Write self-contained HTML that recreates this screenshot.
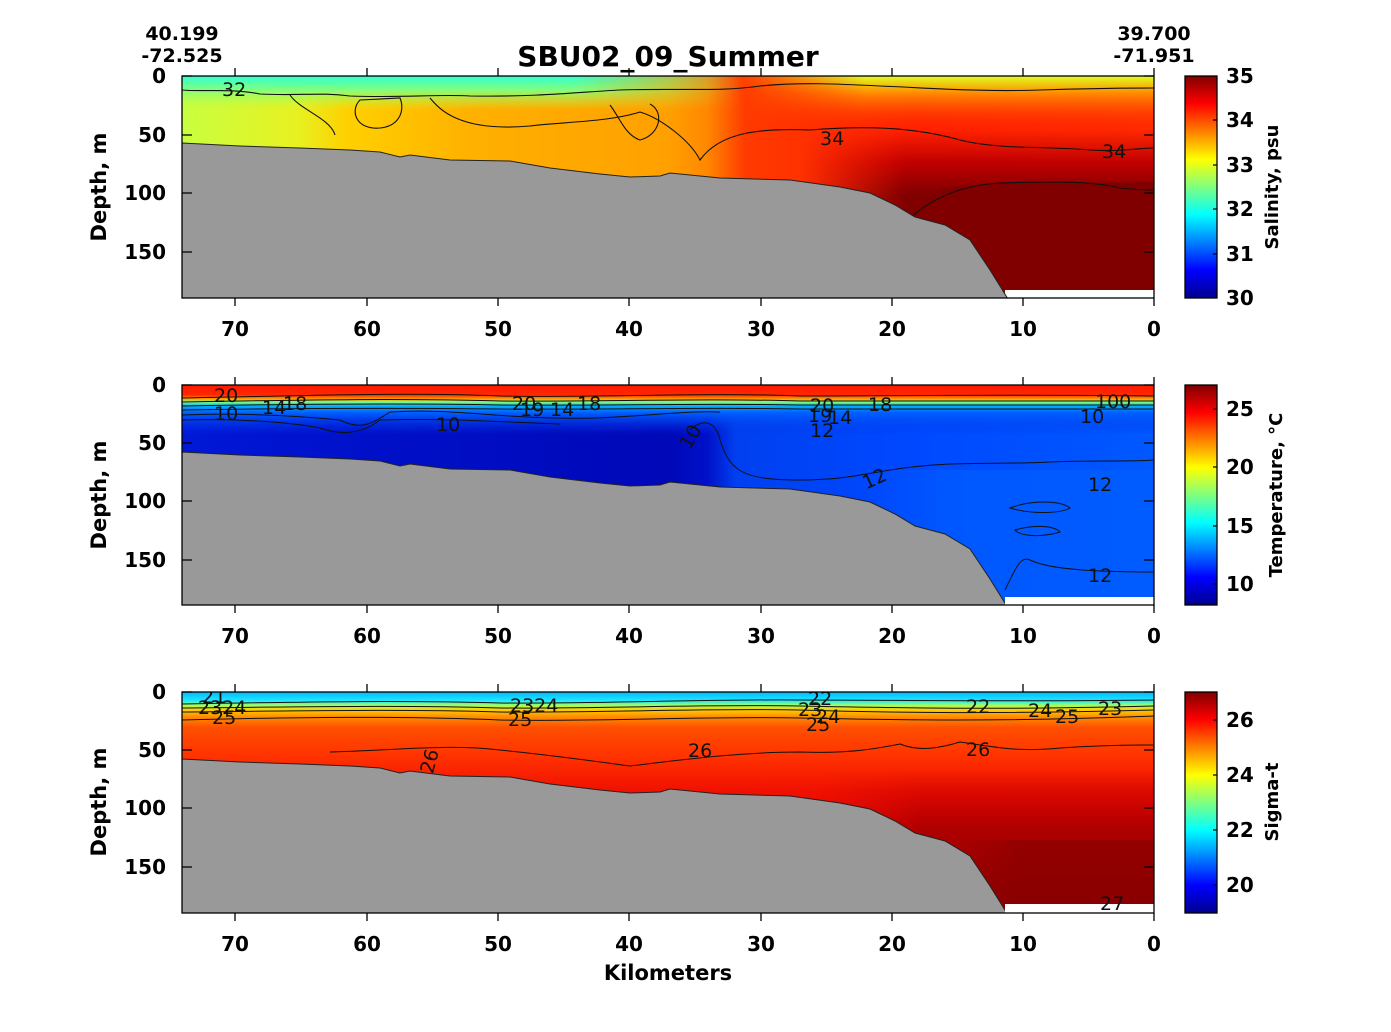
<!DOCTYPE html>
<html><head><meta charset="utf-8"><style>
html,body{margin:0;padding:0;background:#fff}
svg text{font-family:"DejaVu Sans","Liberation Sans",sans-serif}
.c{font-size:19px;fill:#111;font-family:"DejaVu Sans",sans-serif}
</style></head><body>
<svg width="1391" height="1027" viewBox="0 0 1391 1027" xmlns="http://www.w3.org/2000/svg">
<defs>
<linearGradient id="jet" x1="0" y1="1" x2="0" y2="0">
<stop offset="0" stop-color="#00008f"/><stop offset="0.125" stop-color="#0000ff"/>
<stop offset="0.375" stop-color="#00ffff"/><stop offset="0.625" stop-color="#ffff00"/>
<stop offset="0.875" stop-color="#ff0000"/><stop offset="1" stop-color="#800000"/>
</linearGradient>
<linearGradient id="fL" x1="0" y1="0" x2="1" y2="0">
<stop offset="0" stop-color="#fff"/><stop offset="0.7" stop-color="#fff"/><stop offset="1" stop-color="#000"/>
</linearGradient>
<linearGradient id="fR" x1="0" y1="0" x2="1" y2="0">
<stop offset="0" stop-color="#000"/><stop offset="0.3" stop-color="#fff"/><stop offset="1" stop-color="#fff"/>
</linearGradient>
<mask id="mL" maskContentUnits="objectBoundingBox"><rect x="0" y="0" width="1" height="1" fill="url(#fL)"/></mask>
<mask id="mR" maskContentUnits="objectBoundingBox"><rect x="0" y="0" width="1" height="1" fill="url(#fR)"/></mask>
<linearGradient id="s1h" gradientUnits="userSpaceOnUse" x1="182" y1="0" x2="1154" y2="0">
<stop offset="0" stop-color="#c8ff40"/><stop offset="0.12" stop-color="#e8f020"/>
<stop offset="0.17" stop-color="#ffd000"/><stop offset="0.3" stop-color="#ffb000"/>
<stop offset="0.5" stop-color="#ffa000"/><stop offset="0.54" stop-color="#ff8800"/>
<stop offset="0.58" stop-color="#ff3a00"/><stop offset="0.75" stop-color="#ff2000"/>
<stop offset="1" stop-color="#ff2a00"/>
</linearGradient>
<linearGradient id="s1top" gradientUnits="userSpaceOnUse" x1="0" y1="76" x2="0" y2="110">
<stop offset="0" stop-color="#30ffd0"/><stop offset="0.4" stop-color="#80ff80"/>
<stop offset="1" stop-color="#c0ff40" stop-opacity="0"/>
</linearGradient>
<linearGradient id="s1tr" gradientUnits="userSpaceOnUse" x1="0" y1="76" x2="0" y2="130">
<stop offset="0" stop-color="#e0ff20"/><stop offset="0.3" stop-color="#ff9000"/>
<stop offset="1" stop-color="#ff3000" stop-opacity="0"/>
</linearGradient>
<linearGradient id="s1deep" gradientUnits="userSpaceOnUse" x1="0" y1="130" x2="0" y2="195">
<stop offset="0" stop-color="#c00000" stop-opacity="0"/><stop offset="0.5" stop-color="#c00000"/>
<stop offset="1" stop-color="#800000"/>
</linearGradient>
<linearGradient id="t2h" gradientUnits="userSpaceOnUse" x1="182" y1="0" x2="1154" y2="0">
<stop offset="0" stop-color="#0018d8"/><stop offset="0.2" stop-color="#0010c8"/>
<stop offset="0.5" stop-color="#0008b8"/><stop offset="0.54" stop-color="#0010c8"/>
<stop offset="0.57" stop-color="#0040f0"/><stop offset="0.75" stop-color="#0048ff"/>
<stop offset="1" stop-color="#0058ff"/>
</linearGradient>
<linearGradient id="t2v" gradientUnits="userSpaceOnUse" x1="0" y1="385" x2="0" y2="435">
<stop offset="0" stop-color="#ff1800"/><stop offset="0.2" stop-color="#ff2800"/>
<stop offset="0.28" stop-color="#ffa000"/><stop offset="0.34" stop-color="#80ff80"/>
<stop offset="0.42" stop-color="#00b0ff"/><stop offset="0.55" stop-color="#0060ff"/>
<stop offset="1" stop-color="#0030e8" stop-opacity="0"/>
</linearGradient>
<linearGradient id="g3v" gradientUnits="userSpaceOnUse" x1="0" y1="692" x2="0" y2="913">
<stop offset="0" stop-color="#00b8ff"/><stop offset="0.04" stop-color="#20e8ff"/>
<stop offset="0.06" stop-color="#a0ff60"/><stop offset="0.08" stop-color="#ffd000"/>
<stop offset="0.11" stop-color="#ff9000"/><stop offset="0.16" stop-color="#ff5000"/>
<stop offset="0.3" stop-color="#ff3000"/><stop offset="0.45" stop-color="#f01000"/>
<stop offset="0.75" stop-color="#e00000"/><stop offset="1" stop-color="#d00000"/>
</linearGradient>
<linearGradient id="g3deep" gradientUnits="userSpaceOnUse" x1="0" y1="770" x2="0" y2="913">
<stop offset="0" stop-color="#c00000" stop-opacity="0"/><stop offset="0.4" stop-color="#b00000"/>
<stop offset="1" stop-color="#880000"/>
</linearGradient>
<clipPath id="c1"><rect x="182" y="76" width="972" height="222"/></clipPath>
<clipPath id="c2"><rect x="182" y="385" width="972" height="220"/></clipPath>
<clipPath id="c3"><rect x="182" y="692" width="972" height="221"/></clipPath>
<polygon id="bath" points="182,143 240,146 300,148 350,150 380,152 400,157 410,155 450,160 510,161 550,168 600,174 630,177 660,176 670,173 720,178 790,180 840,187 870,193 895,205 915,217 945,225 970,240 990,270 1008,299 182,299"/>
</defs>

<text x="668" y="66" text-anchor="middle" style="font-size:28px;font-weight:bold">SBU02_09_Summer</text>
<g style="font-size:19px;font-weight:bold" text-anchor="middle">
<text x="182" y="40">40.199</text><text x="182" y="62">-72.525</text>
<text x="1154" y="40">39.700</text><text x="1154" y="62">-71.951</text>
</g>

<!-- Panel 1 -->
<g clip-path="url(#c1)">
<rect x="182" y="76" width="972" height="222" fill="url(#s1h)"/>
<rect x="182" y="76" width="560" height="40" fill="url(#s1top)" mask="url(#mL)"/>
<rect x="740" y="76" width="414" height="60" fill="url(#s1tr)" mask="url(#mR)"/>
<rect x="800" y="130" width="354" height="168" fill="url(#s1deep)" mask="url(#mR)"/>
<polygon points="910,215 940,188 1000,183 1154,182 1154,298 910,298" fill="#800000"/>
<rect x="1005" y="290" width="149" height="10" fill="#fff"/>
<g fill="none" stroke="#111" stroke-width="1.1">
<path d="M182,90 C200,92 230,88 260,94 C300,96 320,92 350,96 C400,98 440,94 470,96 C540,97 580,92 620,90 C680,88 720,92 760,86 C800,82 840,84 880,86 C930,88 980,92 1040,90 C1100,88 1130,88 1154,88"/>
<path d="M290,95 C300,110 330,118 335,135 M360,100 C350,110 355,130 380,128 C400,126 405,110 400,98 Z"/>
<path d="M430,98 C440,110 460,132 530,126 C560,122 610,122 640,112 M610,105 C620,118 625,135 640,140 C660,135 665,112 650,104"/>
<path d="M640,112 C660,118 690,140 700,160 C720,132 760,128 810,130 C860,126 910,126 960,140 C1000,150 1050,146 1090,150 C1120,152 1140,148 1154,148"/>
<path d="M910,218 C930,200 960,185 1000,183 C1040,182 1090,180 1120,188 C1140,190 1150,190 1154,190"/>
</g>
<text x="222" y="96" class="c">32</text>
<text x="820" y="145" class="c">34</text>
<text x="1102" y="158" class="c">34</text>
<use href="#bath" fill="#999" stroke="#222" stroke-width="1"/>
</g>

<!-- Panel 2 -->
<g clip-path="url(#c2)">
<rect x="182" y="385" width="972" height="220" fill="url(#t2h)"/>
<rect x="860" y="470" width="294" height="135" fill="#0060ff" opacity="0.6" mask="url(#mR)"/>
<rect x="182" y="385" width="972" height="50" fill="url(#t2v)"/>
<g fill="none" stroke="#111" stroke-width="1">
<path d="M182,398 C300,396 400,392 500,396 C600,398 700,392 800,396 C900,396 1000,394 1154,396"/>
<path d="M182,402 C300,400 400,398 500,401 C600,402 700,398 800,401 C900,402 1000,400 1154,401"/>
<path d="M182,406 C300,404 400,403 500,405 C600,406 700,403 800,405 C900,406 1000,404 1154,405"/>
<path d="M182,410 C300,408 400,408 500,409 C600,410 700,407 800,409 C900,410 1000,408 1154,409"/>
<path d="M182,415 C260,412 320,418 340,420 C360,430 370,425 390,412 C450,408 500,418 560,418 C620,420 680,410 720,412"/>
<path d="M182,420 C250,418 300,424 320,428 C340,435 360,435 380,420 C450,418 500,422 560,424"/>
<path d="M690,430 C700,420 715,418 720,440 C730,470 740,480 800,480 C840,480 860,475 890,470 C950,460 1000,465 1050,462 C1100,460 1130,462 1154,460"/>
<path d="M1010,508 C1030,500 1060,500 1070,508 C1060,514 1030,514 1010,508 Z M1015,530 C1035,524 1055,526 1060,532 C1040,538 1020,536 1015,530 Z"/>
<path d="M1005,590 C1015,570 1020,555 1030,560 C1050,570 1100,572 1154,572"/>
</g>
<text x="214" y="402" class="c">20</text>
<text x="214" y="420" class="c">10</text>
<text x="262" y="414" class="c">14</text>
<text x="283" y="410" class="c">18</text>
<text x="436" y="431" class="c">10</text>
<text x="512" y="410" class="c">20</text>
<text x="520" y="416" class="c">19</text>
<text x="550" y="416" class="c">14</text>
<text x="577" y="410" class="c">18</text>
<text x="680" y="447" class="c" transform="rotate(-60 688 440)">10</text>
<text x="810" y="412" class="c">20</text>
<text x="808" y="422" class="c">19</text>
<text x="828" y="424" class="c">14</text>
<text x="810" y="437" class="c">12</text>
<text x="868" y="411" class="c">18</text>
<text x="863" y="485" class="c" transform="rotate(-25 875 480)">12</text>
<text x="1088" y="491" class="c">12</text>
<text x="1080" y="423" class="c">10</text>
<text x="1095" y="408" class="c">100</text>
<text x="1088" y="582" class="c">12</text>
<use href="#bath" transform="translate(0,309)" fill="#999" stroke="#222" stroke-width="1"/>
<rect x="1005" y="597" width="149" height="10" fill="#fff"/>
</g>

<!-- Panel 3 -->
<g clip-path="url(#c3)">
<rect x="182" y="692" width="972" height="221" fill="url(#g3v)"/>
<rect x="820" y="770" width="334" height="143" fill="url(#g3deep)" mask="url(#mR)"/>
<rect x="960" y="840" width="194" height="73" fill="#880000" opacity="0.6" mask="url(#mR)"/>
<g fill="none" stroke="#111" stroke-width="1">
<path d="M182,704 C300,702 400,700 500,703 C600,704 700,699 800,700 C900,700 1000,702 1154,700"/>
<path d="M182,708 C300,707 400,705 500,708 C600,709 700,704 800,706 C900,708 1000,710 1154,706"/>
<path d="M182,712 C300,711 400,709 500,712 C600,713 700,708 800,710 C900,713 1000,714 1154,710"/>
<path d="M182,720 C300,717 400,716 500,720 C600,722 700,716 800,718 C900,720 1000,722 1154,716"/>
<path d="M330,752 C400,750 450,744 500,750 C560,756 600,762 630,766 C680,760 740,752 800,752 C850,754 880,748 900,744 C920,752 940,748 960,742 C1000,748 1020,752 1060,748 C1090,746 1120,745 1154,745"/>
</g>
<text x="202" y="703" class="c">21</text>
<text x="198" y="714" class="c">2324</text>
<text x="212" y="724" class="c">25</text>
<text x="510" y="712" class="c">2324</text>
<text x="508" y="726" class="c">25</text>
<text x="808" y="705" class="c">22</text>
<text x="798" y="716" class="c">23</text>
<text x="816" y="723" class="c">24</text>
<text x="806" y="731" class="c">25</text>
<text x="688" y="757" class="c">26</text>
<text x="966" y="713" class="c">22</text>
<text x="1028" y="717" class="c">24</text>
<text x="1055" y="723" class="c">25</text>
<text x="1098" y="715" class="c">23</text>
<text x="966" y="756" class="c">26</text>
<text x="420" y="772" class="c" transform="rotate(-75 428 765)">26</text>
<use href="#bath" transform="translate(0,616)" fill="#999" stroke="#222" stroke-width="1"/>
<rect x="1005" y="904" width="149" height="10" fill="#fff"/>
<text x="1100" y="910" class="c">27</text>
</g>

<g fill="none" stroke="#000" stroke-width="1.3">
<rect x="182" y="76" width="972" height="222"/>
<rect x="182" y="385" width="972" height="220"/>
<rect x="182" y="692" width="972" height="221"/>
<path d="M1154,76h-10M1154,135h-10M1154,193h-10M1154,252h-10M182,76h10M182,135h10M182,193h10M182,252h10
M1154,385h-10M1154,443h-10M1154,501h-10M1154,560h-10M182,385h10M182,443h10M182,501h10M182,560h10
M1154,692h-10M1154,750h-10M1154,808h-10M1154,867h-10M182,692h10M182,750h10M182,808h10M182,867h10"/>
<path d="M235,76v-8M367,76v-8M498,76v-8M629,76v-8M761,76v-8M892,76v-8M1023,76v-8M1154,76v-8
M235,298v8M367,298v8M498,298v8M629,298v8M761,298v8M892,298v8M1023,298v8M1154,298v8
M235,385v-8M367,385v-8M498,385v-8M629,385v-8M761,385v-8M892,385v-8M1023,385v-8M1154,385v-8
M235,605v8M367,605v8M498,605v8M629,605v8M761,605v8M892,605v8M1023,605v8M1154,605v8
M235,692v-8M367,692v-8M498,692v-8M629,692v-8M761,692v-8M892,692v-8M1023,692v-8M1154,692v-8
M235,913v8M367,913v8M498,913v8M629,913v8M761,913v8M892,913v8M1023,913v8M1154,913v8"/>
</g>

<g style="font-size:20px;font-weight:bold" text-anchor="end">
<text x="166" y="83">0</text><text x="166" y="142">50</text><text x="166" y="200">100</text><text x="166" y="259">150</text>
<text x="166" y="392">0</text><text x="166" y="450">50</text><text x="166" y="508">100</text><text x="166" y="567">150</text>
<text x="166" y="699">0</text><text x="166" y="757">50</text><text x="166" y="815">100</text><text x="166" y="874">150</text>
</g>
<g style="font-size:20px;font-weight:bold" text-anchor="middle">
<text x="235" y="336">70</text><text x="367" y="336">60</text><text x="498" y="336">50</text><text x="629" y="336">40</text><text x="761" y="336">30</text><text x="892" y="336">20</text><text x="1023" y="336">10</text><text x="1154" y="336">0</text>
<text x="235" y="643">70</text><text x="367" y="643">60</text><text x="498" y="643">50</text><text x="629" y="643">40</text><text x="761" y="643">30</text><text x="892" y="643">20</text><text x="1023" y="643">10</text><text x="1154" y="643">0</text>
<text x="235" y="951">70</text><text x="367" y="951">60</text><text x="498" y="951">50</text><text x="629" y="951">40</text><text x="761" y="951">30</text><text x="892" y="951">20</text><text x="1023" y="951">10</text><text x="1154" y="951">0</text>
</g>
<text x="668" y="980" text-anchor="middle" style="font-size:21px;font-weight:bold">Kilometers</text>
<g style="font-size:21px;font-weight:bold" text-anchor="middle">
<text transform="translate(106,187) rotate(-90)">Depth, m</text>
<text transform="translate(106,495) rotate(-90)">Depth, m</text>
<text transform="translate(106,802) rotate(-90)">Depth, m</text>
</g>

<rect x="1185" y="76" width="32" height="222" fill="url(#jet)" stroke="#000" stroke-width="1.3"/>
<rect x="1185" y="385" width="32" height="220" fill="url(#jet)" stroke="#000" stroke-width="1.3"/>
<rect x="1185" y="692" width="32" height="221" fill="url(#jet)" stroke="#000" stroke-width="1.3"/>
<path stroke="#000" stroke-width="1.3" d="M1217,120h-4M1217,165h-4M1217,209h-4M1217,254h-4M1217,409h-4M1217,467h-4M1217,526h-4M1217,584h-4M1217,720h-4M1217,775h-4M1217,830h-4M1217,885h-4"/>
<g style="font-size:20px;font-weight:bold">
<text x="1226" y="83">35</text><text x="1226" y="127">34</text><text x="1226" y="172">33</text><text x="1226" y="216">32</text><text x="1226" y="261">31</text><text x="1226" y="305">30</text>
<text x="1226" y="416">25</text><text x="1226" y="474">20</text><text x="1226" y="533">15</text><text x="1226" y="591">10</text>
<text x="1226" y="727">26</text><text x="1226" y="782">24</text><text x="1226" y="837">22</text><text x="1226" y="892">20</text>
</g>
<g style="font-size:18px;font-weight:bold" text-anchor="middle">
<text transform="translate(1278,187) rotate(-90)">Salinity, psu</text>
<text transform="translate(1282,495) rotate(-90)">Temperature, °C</text>
<text transform="translate(1278,802) rotate(-90)">Sigma-t</text>
</g>
</svg>
</body></html>
